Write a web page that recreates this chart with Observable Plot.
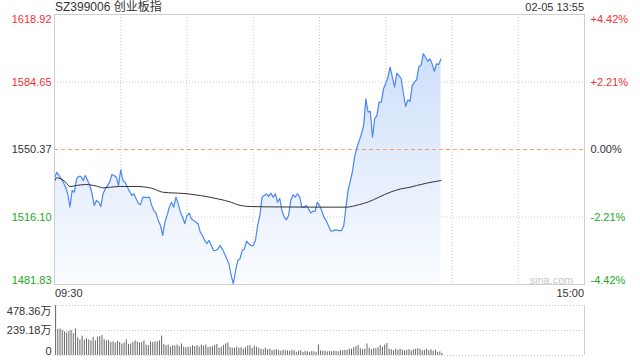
<!DOCTYPE html>
<html><head><meta charset="utf-8">
<script src="https://cdn.jsdelivr.net/npm/d3@7"></script>
<script src="https://cdn.jsdelivr.net/npm/@observablehq/plot@0.6"></script>
<style>
body{margin:0;background:#fff;font-family:"Liberation Sans",Arial,"Noto Sans CJK SC",sans-serif;}
#wrap{position:relative;width:640px;height:360px;overflow:hidden;background:#fff}
.lbl{position:absolute;color:#222;white-space:nowrap;line-height:1}
.abs{position:absolute;left:0}
</style></head><body>
<div id="wrap"></div>
<script>
// ---- data ----
const titleText = "SZ399006 创业板指";
const dateText = "02-05 13:55";
const timeLabels = ["09:30", "15:00"];
const prevClose = 1550.37;
const yTicks = [1481.83, 1516.10, 1550.37, 1584.65, 1618.92];
const pctLabels = ["-4.42%", "-2.21%", "0.00%", "+2.21%", "+4.42%"];
const gridMinutes = [30, 60, 90, 120, 150, 180, 210];

const priceMinute = [0,1,2,4,5,6,7,8,9,10,11,12,13,14,15,16,17,18,19,20,21,22,23,25,26,27,28,29,30,31,32,33,35,36,37,38,39,40,42,43,44,45,46,47,48,49,50,51,52,53,54,55,56,57,58,59,60,61,62,63,65,66,67,68,69,70,71,72,73,74,75,76,77,78,79,80,81,82,83,84,85,86,87,88,89,90,91,92,93,94,95,96,97,98,99,100,101,102,103,104,105,106,107,108,109,110,111,112,113,114,115,116,117,118,119,120,121,122,123,124,125,126,127,129,130,131,132,133,134,135,136,137,138,139,140,141,142,143,144,145,146,147,148,149,150,151,152,153,154,155,156,157,158,159,160,161,162,163,164,165,166,167,168,169,170,171,172,173,174,175];
const price = [1535.5,1538.8,1537.2,1533.8,1531.2,1528.0,1521.1,1529.6,1528.7,1535.5,1536.7,1536.7,1534.6,1537.2,1534.6,1532.1,1527.9,1521.9,1524.5,1523.6,1521.4,1527.9,1530.4,1533.8,1537.7,1537.2,1536.3,1532.1,1540.1,1534.6,1533.8,1531.2,1527.0,1527.9,1525.3,1522.8,1522.4,1526.2,1525.9,1526.2,1522.0,1519.4,1518.0,1514.3,1511.8,1506.7,1513.5,1516.9,1521.1,1523.6,1521.1,1526.2,1522.8,1518.6,1516.0,1512.7,1516.9,1518.0,1515.2,1514.3,1512.7,1508.4,1506.7,1504.2,1502.5,1504.2,1501.6,1499.1,1499.1,1499.9,1501.6,1499.9,1497.4,1494.9,1492.3,1486.4,1482.2,1488.9,1494.0,1494.9,1499.1,1499.9,1503.8,1502.5,1501.6,1501.6,1504.2,1511.8,1516.9,1526.2,1527.0,1527.9,1526.5,1528.2,1526.2,1527.9,1523.6,1525.5,1519.4,1516.0,1514.7,1516.9,1524.5,1527.4,1526.2,1527.9,1526.5,1521.1,1521.1,1521.9,1520.3,1518.2,1519.0,1519.0,1523.6,1521.9,1519.4,1516.0,1514.3,1511.8,1509.2,1508.9,1509.6,1509.2,1509.2,1511.8,1521.1,1530.0,1534.6,1539.7,1547.3,1551.5,1554.9,1558.3,1562.6,1576.1,1569.3,1569.8,1556.6,1566.0,1567.6,1574.4,1574.4,1581.2,1583.7,1587.1,1592.2,1587.1,1582.0,1589.1,1587.9,1586.3,1578.7,1572.2,1575.6,1574.7,1582.9,1584.5,1585.8,1592.5,1593.0,1599.0,1597.2,1595.2,1596.4,1593.9,1590.1,1593.9,1593.5,1596.4];

const avgMinute = [0,1,3,5,7,10,14,19,22,29,37,44,49,60,66,74,80,83,89,102,120,132,138,142,147,152,157,161,164,169,175];
const avgPrice = [1534.1,1536.0,1535.4,1533.8,1531.6,1532.1,1532.6,1531.8,1530.9,1531.6,1531.6,1530.7,1528.7,1527.9,1527.0,1525.3,1523.6,1522.3,1521.4,1521.2,1521.1,1521.1,1522.4,1523.7,1526.2,1528.7,1530.4,1531.2,1532.1,1533.4,1534.6];

const volTicks = [0, 239.18, 478.36];
const volLabels = ["0", "239.18万", "478.36万"];
const volume = [478,250,255,240,225,215,230,240,210,255,170,150,185,145,160,150,140,175,140,175,180,190,150,140,145,125,130,120,135,125,110,120,150,105,110,125,140,130,120,125,140,100,95,130,125,130,130,140,185,105,95,100,80,95,90,100,85,110,80,75,80,80,95,85,95,80,100,90,100,75,80,85,95,105,70,80,95,110,120,75,70,70,80,70,75,60,75,90,95,70,90,80,70,60,55,70,55,60,45,50,55,45,40,50,45,45,40,50,45,30,40,45,30,40,35,30,40,35,30,100,45,40,40,35,40,35,40,40,35,45,45,50,50,60,60,75,85,95,65,55,60,110,70,55,65,65,75,95,80,100,115,60,55,45,60,50,60,50,45,50,55,45,55,60,65,60,45,50,60,45,55,40,50,30,35,20];

// ---- build ----
const wrap = document.getElementById("wrap");
const FONT = '"Liberation Sans", Arial, "Noto Sans CJK SC", sans-serif';
function label(text, css) {
  const d = document.createElement("div");
  d.className = "lbl";
  d.textContent = text;
  Object.assign(d.style, css);
  wrap.appendChild(d);
}
label(titleText, {left: "55px", top: "1px", fontSize: "12px", color: "#333"});
label(dateText, {right: "56px", top: "2px", fontSize: "11px", color: "#333"});
label(timeLabels[0], {left: "55px", top: "288px", fontSize: "11px", color: "#333"});
label(timeLabels[1], {right: "56px", top: "288px", fontSize: "11px", color: "#333"});

const series = priceMinute.map((m, i) => ({m, p: price[i]}));
const avgSeries = avgMinute.map((m, i) => ({m, p: avgPrice[i]}));
const tickColor = v => v > prevClose + 0.001 ? "#f23030" : v < prevClose - 0.001 ? "#22a822" : "#333";
const tickData = yTicks.map((v, i) => ({v, pct: pctLabels[i], i}));

const gradDefs = () => {
  const g = d3.create("svg:g");
  const lg = g.append("defs").append("linearGradient")
    .attr("id", "pgrad").attr("x1", 0).attr("y1", 0).attr("x2", 0).attr("y2", 1);
  lg.append("stop").attr("offset", "0%").attr("stop-color", "#cfdffa");
  lg.append("stop").attr("offset", "100%").attr("stop-color", "#fafcff");
  return g.node();
};

function sideLabels(filter, opts) {
  return [
    Plot.text(tickData.filter(filter), {y: "v", text: d => d.v.toFixed(2), fill: d => tickColor(d.v),
      frameAnchor: "left", textAnchor: "end", dx: -3, fontSize: 11, ...opts}),
    Plot.text(tickData.filter(filter), {y: "v", text: "pct", fill: d => tickColor(d.v),
      frameAnchor: "right", textAnchor: "start", dx: 6, fontSize: 11, ...opts})
  ];
}

const main = Plot.plot({
  width: 640, height: 290,
  marginLeft: 54, marginRight: 56, marginTop: 14, marginBottom: 6,
  x: {domain: [0, 240], axis: null},
  y: {domain: [yTicks[0], yTicks[4]], axis: null},
  style: {fontFamily: FONT, background: "transparent", overflow: "visible"},
  marks: [
    gradDefs,
    Plot.ruleX(gridMinutes, {stroke: "#c8c8c8", strokeDasharray: "1,2"}),
    Plot.ruleY([yTicks[1], yTicks[3]], {stroke: "#c8c8c8", strokeDasharray: "1,2"}),
    Plot.areaY(series, {x: "m", y1: yTicks[0], y2: "p", fill: "url(#pgrad)"}),
    Plot.ruleY([prevClose], {stroke: "#f4a06a", strokeDasharray: "4,3"}),
    Plot.line(series, {x: "m", y: "p", stroke: "#4a88f2", strokeWidth: 1.2}),
    Plot.line(avgSeries, {x: "m", y: "p", stroke: "#333", strokeWidth: 1, curve: "monotone-x"}),
    Plot.frame({stroke: "#cfcfcf"}),
    ...sideLabels(d => d.i === 4, {lineAnchor: "top", dy: 1}),
    ...sideLabels(d => d.i > 0 && d.i < 4, {}),
    ...sideLabels(d => d.i === 0, {lineAnchor: "bottom", dy: -1}),
    Plot.text(["sina.com"], {frameAnchor: "bottom-right", dx: -11, dy: -1, lineAnchor: "bottom", fill: "#c8c8c8", fontSize: 11})
  ]
});
main.classList.add("abs");
main.style.top = "0px";
wrap.appendChild(main);

const volData = volume.map((v, i) => ({m: i + 0.5, v}));
const volTickData = volTicks.map((v, i) => ({v, t: volLabels[i], i}));
const vol = Plot.plot({
  width: 640, height: 58,
  marginLeft: 54, marginRight: 56, marginTop: 5, marginBottom: 3,
  x: {domain: [0, 240], axis: null},
  y: {domain: [0, 478.36], axis: null},
  style: {fontFamily: FONT, background: "transparent", overflow: "visible"},
  marks: [
    Plot.ruleY(volTicks, {stroke: "#c8c8c8", strokeDasharray: "1,2"}),
    Plot.ruleX([240], {stroke: "#cfcfcf"}),
    Plot.ruleX(volData, {x: "m", y1: 0, y2: "v", stroke: "#666", strokeWidth: 1}),
    Plot.text(volTickData.filter(d => d.i === 2), {y: "v", text: "t", frameAnchor: "left", textAnchor: "end", dx: -3, lineAnchor: "top", dy: 2, fill: "#333", fontSize: 11}),
    Plot.text(volTickData.filter(d => d.i === 1), {y: "v", text: "t", frameAnchor: "left", textAnchor: "end", dx: -3, fill: "#333", fontSize: 11}),
    Plot.text(volTickData.filter(d => d.i === 0), {y: "v", text: "t", frameAnchor: "left", textAnchor: "end", dx: -3, lineAnchor: "bottom", dy: -1, fill: "#333", fontSize: 11})
  ]
});
vol.classList.add("abs");
vol.style.top = "300px";
wrap.appendChild(vol);
</script>
</body></html>
